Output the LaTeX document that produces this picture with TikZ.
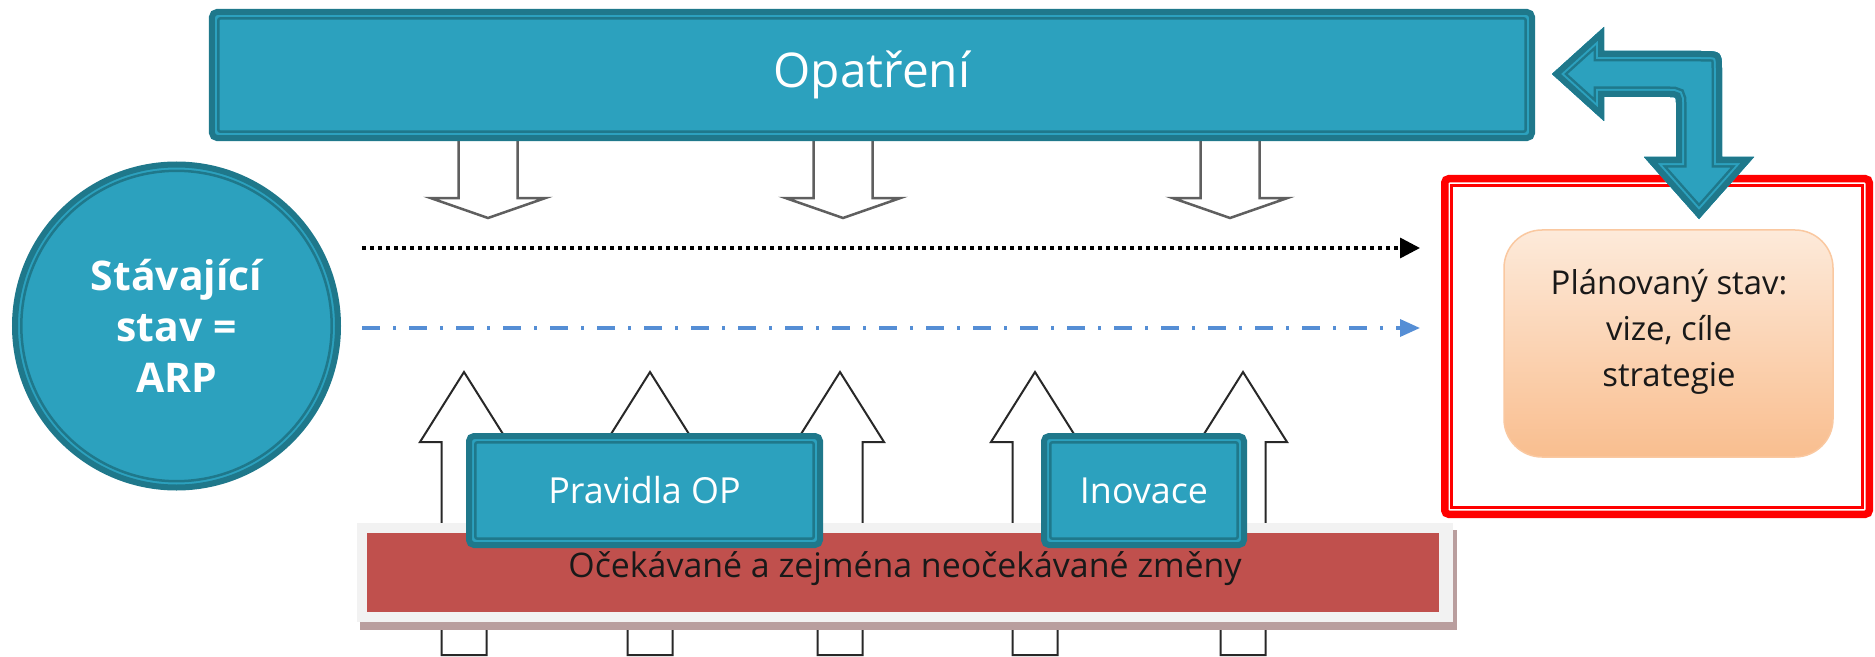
\documentclass[tikz,border=0pt]{standalone}
\usepackage{fontspec}
\setmainfont{Open Sans}
\usetikzlibrary{arrows.meta}
\definecolor{tealfill}{RGB}{44,161,190}
\definecolor{tealdark}{RGB}{31,120,139}
\definecolor{barred}{RGB}{192,80,77}
\definecolor{framegrey}{RGB}{242,242,242}
\definecolor{shadowred}{RGB}{185,158,158}
\definecolor{dashblue}{RGB}{85,142,213}
\definecolor{peachtop}{RGB}{253,234,218}
\definecolor{peachbot}{RGB}{249,190,143}
\definecolor{peachline}{RGB}{250,200,160}
\definecolor{framered}{RGB}{255,0,0}
\definecolor{arrowgrey}{RGB}{95,95,95}
\definecolor{uparrline}{RGB}{40,40,40}
\definecolor{darktext}{RGB}{25,25,25}
\newcommand\tealband[1]{%
  \begin{scope}
    \clip #1;
    \fill[tealfill] #1;
    \draw[tealdark, line width=21bp, line join=miter] #1;
    \draw[tealfill, line width=16bp, line join=miter] #1;
    \draw[tealdark, line width=12bp, line join=miter] #1;
  \end{scope}}
\tikzset{
  tealbox/.style={draw=tealdark, line width=6bp, fill=tealfill, rounded corners=5bp,
    text=white, inner sep=0pt, outer sep=0pt,
    path picture={\draw[tealdark, line width=2.5bp, rounded corners=2bp]
      ([shift={(6.3,6.3)}]path picture bounding box.north west) rectangle
      ([shift={(-6.3,-6.3)}]path picture bounding box.south east);}},
  tealcircle/.style={circle, draw=tealdark, line width=6bp, fill=tealfill, text=white,
    inner sep=0pt, outer sep=0pt, minimum size=323bp,
    path picture={\draw[tealdark, line width=2.5bp]
      (path picture bounding box.center) circle[radius=155.2];}},
  downarr/.style={draw=arrowgrey, line width=2.5bp, fill=white, line join=miter},
  uparr/.style={draw=uparrline, line width=2bp, fill=white, line join=miter},
  dotline/.style={black, line width=3.5bp, dash pattern=on 3.5bp off 4.5bp,
    -{Triangle[length=20bp,width=20bp]}},
  dashdotline/.style={dashblue, line width=3.5bp, dash pattern=on 18bp off 13bp on 3bp off 13bp,
    -{Triangle[length=20bp,width=17bp]}},
  pics/downblock/.style={code={
    \draw[downarr] (-29.5,130) -- (-29.5,198) -- (-57.5,198) -- (0,218) -- (57.5,198)
      -- (29.5,198) -- (29.5,130);}},
  pics/upblock/.style={code={
    \draw[uparr] (-22.5,655) -- (-22.5,442) -- (-44,442) -- (0,372) -- (44,442)
      -- (22.5,442) -- (22.5,655) -- cycle;}},
}
\begin{document}
\begin{tikzpicture}[x=1bp, y=-1bp]
\useasboundingbox[fill=white] (0,0) rectangle (1875,657);

% upward block arrows
\pic at (464,0) {upblock};
\pic at (650,0) {upblock};
\pic at (840,0) {upblock};
\pic at (1035,0) {upblock};
\pic at (1243,0) {upblock};

% bar of changes
\fill[shadowred] (360,530) rectangle (1457,630);
\node[fill=framegrey, inner sep=0pt, outer sep=0pt, minimum width=1096bp, minimum height=99bp] (barframe) at (905,572.5) {};
\node[fill=barred, inner sep=0pt, outer sep=0pt, minimum width=1072bp, minimum height=79bp] (bar) at (903,572.5) {};
\node[anchor=base, text=darktext, font=\fontsize{34}{38}\selectfont, inner sep=0pt] (bartext) at (905,577) {Očekávané a zejména neočekávané změny};

% bottom teal boxes
\node[tealbox, minimum width=351bp, minimum height=109bp, font=\fontsize{36}{40}\selectfont] (rules) at (644.5,490.5) {Pravidla OP};
\node[tealbox, minimum width=200bp, minimum height=109bp, font=\fontsize{36}{40}\selectfont] (innov) at (1144,490.5) {Inovace};

% downward block arrows
\pic at (488,0) {downblock};
\pic at (843,0) {downblock};
\pic at (1230,0) {downblock};

% top box
\node[tealbox, minimum width=1320bp, minimum height=126bp, font=\fontsize{48}{52}\selectfont] (measures) at (872,75) {Opatření};

% red frame and goal
\node[draw=framered, line width=7.5bp, rounded corners=4bp, inner sep=0pt, outer sep=0pt,
  minimum width=424.5bp, minimum height=335.5bp] (frame) at (1657,346.5) {};
\draw[framered, line width=2.5bp] ([shift={(6.55,6.55)}]frame.north west) rectangle ([shift={(-6.55,-6.55)}]frame.south east);
\node[draw=peachline, line width=1.5bp, rounded corners=38bp, top color=peachtop, bottom color=peachbot,
  inner sep=0pt, outer sep=0pt, minimum width=329bp, minimum height=227bp] (goal) at (1668.5,343.5) {};
\node[align=center, text=darktext, font=\fontsize{33}{46}\selectfont, inner sep=0pt] (goaltext) at (1669,332) {Plánovaný stav:\\vize, cíle\\strategie};

% bent arrow
\tealband{(1552,74) -- (1604,27) -- (1604,51) -- (1700,51) .. controls (1722,51) .. (1722,73) -- (1722,157) -- (1754,157) -- (1699,219) -- (1644,157) -- (1676,157) -- (1676,103) .. controls (1676,97) .. (1670,97) -- (1604,97) -- (1604,121) -- cycle}

% current state circle
\node[tealcircle, align=center, font=\bfseries\fontsize{41}{51}\selectfont] (current) at (176.5,326) {Stávající\\stav =\\ARP};

% horizontal arrows
\coordinate (dotstart) at (362,248);
\coordinate (dotend) at (1420,248);
\coordinate (dashstart) at (362,328);
\coordinate (dashend) at (1420,328);
\draw[dotline] (dotstart) -- (dotend);
\draw[dashdotline] (dashstart) -- (dashend);
\end{tikzpicture}
\end{document}
